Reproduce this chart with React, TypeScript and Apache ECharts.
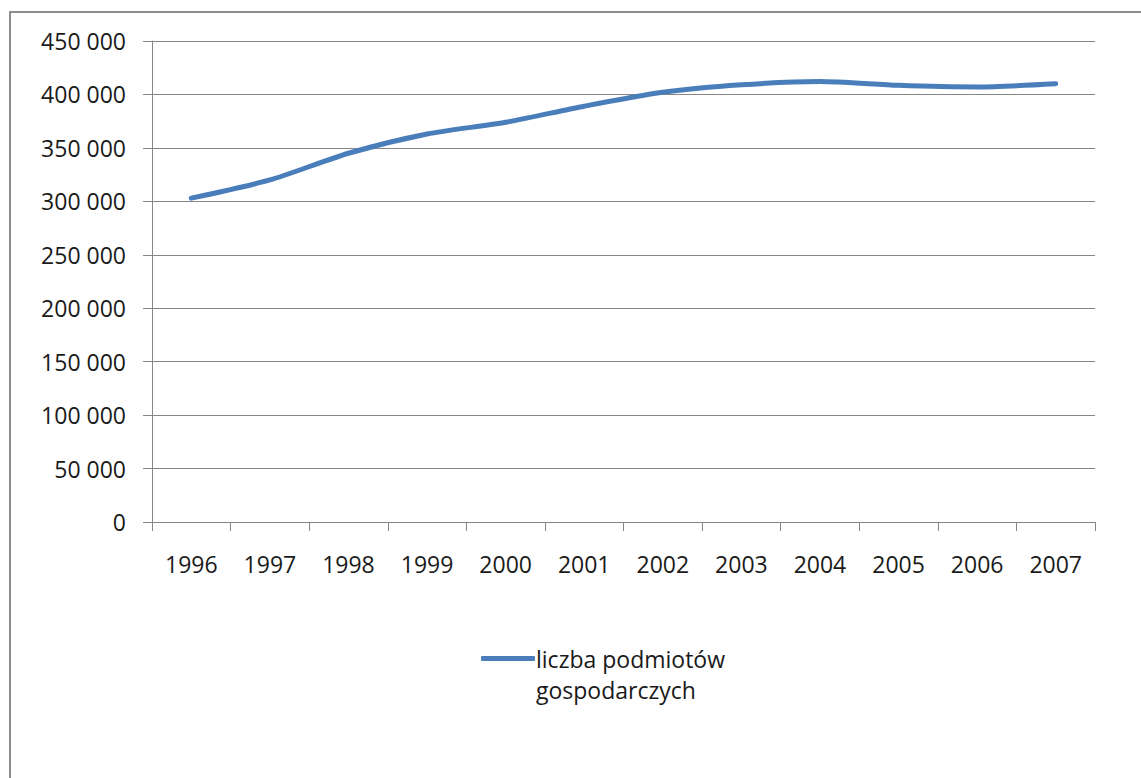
import React, { useEffect, useRef } from "react";
import * as echarts from "echarts";

const years = ["1996", "1997", "1998", "1999", "2000", "2001", "2002", "2003", "2004", "2005", "2006", "2007"];
const firms = [303000, 320000, 345000, 363000, 374000, 389000, 402000, 409000, 412000, 408500, 407000, 410000];
const seriesName = "liczba podmiotów gospodarczych";
const yMax = 450000;
const yStep = 50000;

const fmt = (v: number) => {
  const s = String(Math.round(v));
  return s.replace(/\B(?=(\d{3})+(?!\d))/g, " ");
};

export default function App() {
  const ref = useRef<HTMLDivElement>(null);
  useEffect(() => {
    if (!ref.current) return;
    const chart = echarts.init(ref.current, null, { renderer: "svg" });
    const font = "'Open Sans', 'Noto Sans', sans-serif";
    chart.setOption({
      animation: false,
      backgroundColor: "#ffffff",
      textStyle: { fontFamily: font },
      graphic: [
        {
          type: "rect",
          shape: { x: 10, y: 12, width: 1300, height: 900 },
          style: { fill: "none", stroke: "#8c8c8c", lineWidth: 2 },
          silent: true,
        },
      ],
      grid: { left: 152, right: 46, top: 41, bottom: 256, containLabel: false },
      legend: {
        left: 476,
        top: 607,
        icon: "roundRect",
        itemWidth: 54,
        itemHeight: 5,
        itemGap: 0,
        formatter: () => "{s| }\nliczba podmiotów\ngospodarczych",
        textStyle: {
          fontFamily: font,
          fontSize: 23,
          color: "#1a1a1a",
          lineHeight: 31,
          padding: [0, 0, 0, -4],
          rich: {
            s: { fontSize: 23, lineHeight: 31 },
          },
        },
        data: [seriesName],
      },
      xAxis: {
        type: "category",
        data: years,
        boundaryGap: true,
        axisLine: { show: true, lineStyle: { color: "#868686", width: 1 } },
        axisTick: { show: true, alignWithLabel: false, length: 9, lineStyle: { color: "#868686" } },
        axisLabel: { fontFamily: font, fontSize: 23, color: "#1a1a1a", margin: 30, interval: 0 },
        splitLine: { show: false },
      },
      yAxis: {
        type: "value",
        min: 0,
        max: yMax,
        interval: yStep,
        axisLine: { show: true, lineStyle: { color: "#868686", width: 1 } },
        axisTick: { show: true, length: 9, lineStyle: { color: "#868686" } },
        axisLabel: {
          fontFamily: font,
          fontSize: 23,
          color: "#1a1a1a",
          margin: 26,
          formatter: (v: number) => fmt(v),
        },
        splitLine: { show: true, lineStyle: { color: "#868686", width: 1 } },
      },
      series: [
        {
          name: seriesName,
          type: "line",
          data: firms,
          smooth: 0.25,
          showSymbol: false,
          symbol: "none",
          lineStyle: { color: "#4a7ebb", width: 5, cap: "round" },
          itemStyle: { color: "#4a7ebb" },
        },
      ],
    });
    return () => chart.dispose();
  }, []);
  return (
    <div
      ref={ref}
      style={{ position: "fixed", left: 0, top: 0, width: 1141, height: 778, background: "#fff" }}
    />
  );
}
